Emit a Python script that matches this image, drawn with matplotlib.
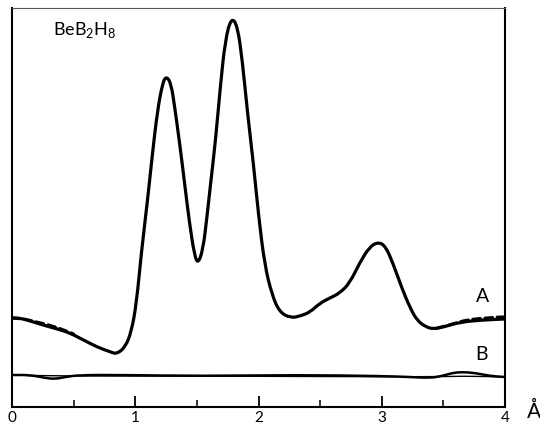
import matplotlib
matplotlib.use("Agg")
from matplotlib import pyplot as plt
from matplotlib.path import Path
from matplotlib.patches import PathPatch

plt.rcParams['font.family'] = ['Lato', 'DejaVu Sans']
plt.rcParams['mathtext.fontset'] = 'custom'
plt.rcParams['mathtext.rm'] = 'Lato'

# curve A (solid), distance in angstrom vs. arbitrary intensity
a_x = [0.00, 0.06, 0.15, 0.25, 0.37, 0.47, 0.58, 0.69, 0.80, 0.85,
       0.92, 0.97, 1.01, 1.05, 1.10, 1.14, 1.18, 1.22, 1.25, 1.29,
       1.32, 1.36, 1.40, 1.44, 1.48, 1.51, 1.55, 1.58, 1.61, 1.65,
       1.69, 1.73, 1.78, 1.83, 1.87, 1.91, 1.96, 2.00, 2.05, 2.11,
       2.17, 2.26, 2.34, 2.42, 2.50, 2.58, 2.66, 2.74, 2.82, 2.90,
       2.97, 3.03, 3.09, 3.16, 3.23, 3.29, 3.36, 3.42, 3.50, 3.64,
       3.82, 4.00]
a_y = [89, 89, 86, 82, 78, 74, 67, 60, 55, 53,
       60, 76, 104, 155, 207, 254, 296, 323, 331, 324,
       300, 264, 224, 184, 152, 143, 158, 188, 222, 265,
       320, 367, 390, 381, 345, 295, 242, 192, 142, 112,
       95, 89, 91, 95, 104, 109, 114, 124, 144, 160,
       165, 161, 144, 120, 99, 86, 80, 78, 80, 85,
       87, 88]

# curve A (dashed) where it leaves the solid one
a_dash_left_x = [0.00, 0.10, 0.20, 0.30, 0.40, 0.50]
a_dash_left_y = [89, 88, 85, 82, 78, 73]
a_dash_right_x = [3.45, 3.55, 3.65, 3.75, 3.85, 3.95, 4.00]
a_dash_right_y = [79, 82, 86, 88, 89, 90, 90]

# curve B (difference) two traces
b1_x = [0.00, 0.15, 0.27, 0.35, 0.43, 0.55, 0.88, 1.53, 2.34, 2.99,
        3.23, 3.39, 3.49, 3.57, 3.65, 3.76, 3.88, 4.00]
b1_y = [32, 32, 29, 28, 30, 32, 32, 31, 32, 31,
        30, 29, 31, 34, 35, 34, 31, 30]
b2_x = [0.00, 0.35, 1.50, 3.40, 3.65, 4.00]
b2_y = [32, 31, 31, 30, 31, 30]

x_ticks = [0, 1, 2, 3, 4]
x_minor = [0.5, 1.5, 2.5, 3.5]


def smooth_line(ax, xs, ys, **kw):
    # quadratic bezier through the midpoints, the read points act as controls
    pts = list(zip(xs, ys))
    verts = [pts[0]]
    codes = [Path.MOVETO]
    if len(pts) > 2:
        verts.append(((pts[0][0] + pts[1][0]) / 2, (pts[0][1] + pts[1][1]) / 2))
        codes.append(Path.LINETO)
        for i in range(1, len(pts) - 1):
            nxt = ((pts[i][0] + pts[i + 1][0]) / 2, (pts[i][1] + pts[i + 1][1]) / 2)
            verts += [pts[i], nxt]
            codes += [Path.CURVE3, Path.CURVE3]
    verts.append(pts[-1])
    codes.append(Path.LINETO)
    ax.add_patch(PathPatch(Path(verts, codes), fill=False, capstyle='round', joinstyle='round', **kw))


fig = plt.figure(figsize=(5.4, 4.24), dpi=100)
ax = fig.add_axes([12 / 540, 17 / 424, 493 / 540, 399 / 424])

smooth_line(ax, a_x, a_y, edgecolor='black', lw=2.3)
smooth_line(ax, a_dash_left_x, a_dash_left_y, edgecolor='black', lw=2.2, ls=(0, (2.5, 1.5)))
smooth_line(ax, a_dash_right_x, a_dash_right_y, edgecolor='black', lw=2.2, ls=(0, (2.5, 1.5)))
smooth_line(ax, b1_x, b1_y, edgecolor='black', lw=1.8)
smooth_line(ax, b2_x, b2_y, edgecolor='black', lw=1.0)

ax.set_xlim(0, 4)
ax.set_ylim(0, 399)

ax.set_xticks(x_ticks)
ax.set_xticklabels([str(t) for t in x_ticks])
ax.set_xticks(x_minor, minor=True)
ax.tick_params(axis='x', which='major', direction='in', length=8, width=1.3, pad=3, labelsize=11)
ax.tick_params(axis='x', which='minor', direction='in', length=5, width=1.1)
ax.set_yticks([])

for side in ['left', 'right', 'bottom']:
    ax.spines[side].set_linewidth(1.5)
ax.spines['top'].set_linewidth(0.8)
ax.spines['top'].set_color('#555555')

ax.text(0.083, 377, r"BeB$_\mathrm{2}$H$_\mathrm{8}$", transform=ax.get_yaxis_transform(),
        fontsize=13, va='center', ha='left')
ax.text(3.82, 111, "A", fontsize=14, ha='center', va='center')
ax.text(3.81, 52, "B", fontsize=14, ha='center', va='center')
fig.text(534 / 540, 1 - 412 / 424, "Å", fontsize=15, ha='center', va='center')

fig.savefig("out.png", dpi=100)
